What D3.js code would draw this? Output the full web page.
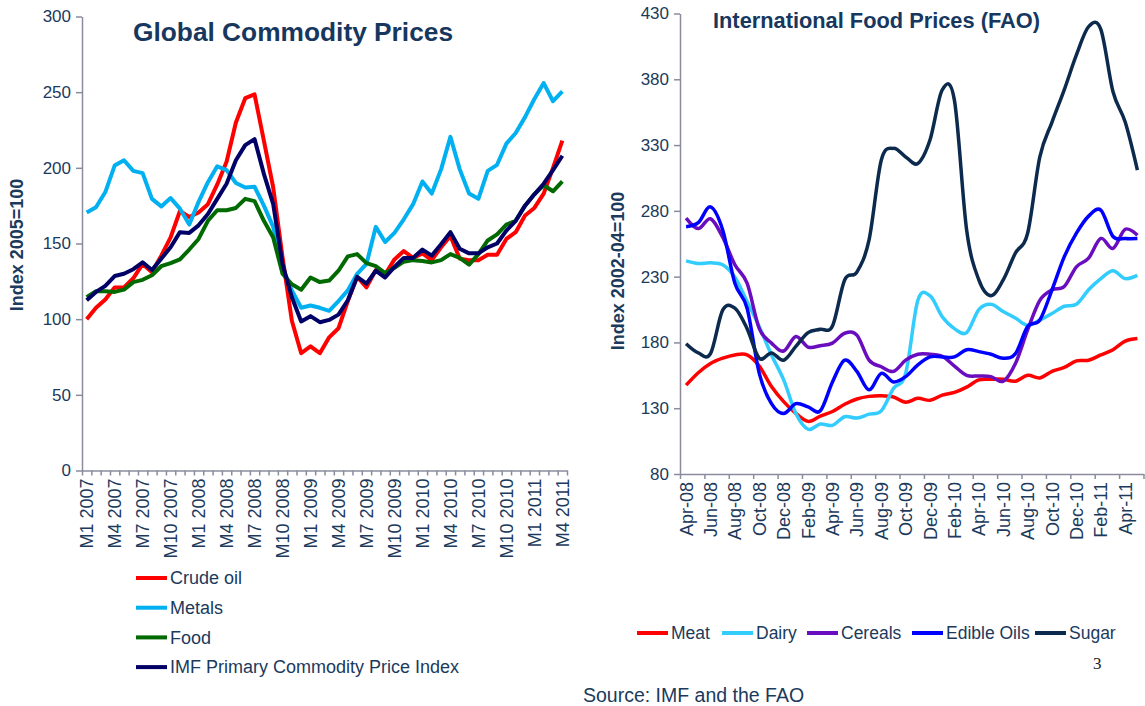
<!DOCTYPE html>
<html>
<head>
<meta charset="utf-8">
<script src="https://cdn.jsdelivr.net/npm/d3@7"></script>
<style>
  body { margin: 0; background: #fff; }
  svg { display: block; font-family: "Liberation Sans", Arial, sans-serif; }
</style>
</head>
<body>
<svg id="chart" width="1145" height="706"></svg>
<script>
// ---- Left panel: Global Commodity Prices (monthly, M1 2007 .. M4 2011)
const leftMonths = [];
for (const yr of [2007, 2008, 2009, 2010, 2011]) {
  for (let m = 1; m <= 12; m++) {
    if (yr === 2011 && m > 4) break;
    leftMonths.push(`M${m} ${yr}`);
  }
}
const leftTickLabels = ["M1 2007", "M4 2007", "M7 2007", "M10 2007", "M1 2008", "M4 2008",
  "M7 2008", "M10 2008", "M1 2009", "M4 2009", "M7 2009", "M10 2009", "M1 2010",
  "M4 2010", "M7 2010", "M10 2010", "M1 2011", "M4 2011"];
const leftYTicks = [0, 50, 100, 150, 200, 250, 300];

const crudeOil = [100, 107.5, 113, 121, 121, 127, 136.5, 131, 142, 154, 171.5, 167.5, 170.5, 176,
  189, 204, 230, 246, 248.5, 218, 187, 141, 99, 77.5, 82, 77.5, 88, 94, 112, 128, 121, 132.5,
  129.5, 139.5, 145, 140.5, 143.5, 139, 147.5, 155, 140, 139, 139, 142.5, 142.5, 153, 157.5,
  168.5, 173.5, 183, 200, 218];
const metals = [170.5, 174, 184, 201.5, 205, 198, 196.5, 179.5, 174.5, 180, 173, 162.5, 177.5,
  190.5, 201, 198.5, 190, 187, 187.5, 175, 161, 134, 119, 107.5, 109, 107.5, 105.5, 112, 119,
  130, 136.5, 161, 151, 157, 166, 176, 191, 183, 199, 220.5, 199, 183, 179.5, 198, 202, 216,
  223, 233.5, 245.5, 256, 244, 250.5];
const food = [114.5, 118.5, 118.5, 118, 119.5, 124.5, 126, 129, 135, 137, 139.5, 146, 153, 165,
  172, 172, 173.5, 179.5, 178, 165, 154, 130, 123, 119.5, 127.5, 124.5, 125.5, 132, 141.5, 143,
  137, 135, 130.5, 134, 138, 139, 138.5, 137.5, 139, 143, 140.5, 136, 143, 152, 156, 162.5, 165,
  175, 182.5, 188.5, 184.5, 191];
const imfIndex = [112.5, 118, 122, 128.5, 130, 133, 137.5, 132.5, 140, 147.5, 157.5, 157, 162,
  169.5, 179.5, 189.5, 205, 215, 219, 196, 176, 136.5, 114.5, 98.5, 102, 98, 99.5, 103, 112.5,
  128, 123.5, 132, 127.5, 134.5, 140.5, 140.5, 146, 142, 149.5, 157.5, 146.5, 143.5, 143.5,
  147.5, 150, 158.5, 165, 175, 182.5, 189.5, 198.5, 208];

// ---- Right panel: International Food Prices (FAO), Apr-08 .. May-11
const rightMonths = [];
const monNames = ["Jan", "Feb", "Mar", "Apr", "May", "Jun", "Jul", "Aug", "Sep", "Oct", "Nov", "Dec"];
for (let k = 3; k <= 12 * 3 + 4; k++) {
  rightMonths.push(`${monNames[k % 12]}-${String(8 + Math.floor(k / 12)).padStart(2, "0")}`);
}
const rightTickLabels = ["Apr-08", "Jun-08", "Aug-08", "Oct-08", "Dec-08", "Feb-09", "Apr-09",
  "Jun-09", "Aug-09", "Oct-09", "Dec-09", "Feb-10", "Apr-10", "Jun-10", "Aug-10", "Oct-10",
  "Dec-10", "Feb-11", "Apr-11"];
const rightYTicks = [80, 130, 180, 230, 280, 330, 380, 430];

const meat = [147.5, 157, 164, 168, 170.5, 170.5, 162, 146.5, 135, 126, 120, 124, 127.5, 133, 137,
  139, 139.5, 138.5, 134.5, 137.5, 136, 140, 142, 146, 151.5, 152, 152, 150.5, 155, 153, 158,
  161, 166, 166.5, 170.5, 174.5, 181, 183];
const dairy = [242, 240, 240.5, 239, 229.5, 211, 192, 170.5, 151.5, 126, 114, 118, 117, 123.5,
  122.5, 125.5, 128, 145, 156.5, 212, 215.5, 199.5, 190.5, 187.5, 205, 209, 203.5, 198.5, 193,
  197, 202, 207.5, 209, 220, 228.5, 234.5, 228.5, 231];
const cereals = [274.5, 266.5, 274, 260, 239, 225, 190.5, 179.5, 173.5, 184.5, 176.5, 177.5, 179.5,
  187, 185.5, 166.5, 161.5, 158, 166.5, 171, 171, 169.5, 162, 155, 154.5, 154, 150.5, 164, 189.5,
  212, 220, 222.5, 237.5, 244, 259, 251.5, 266, 261.5];
const edibleOils = [268, 271, 283, 265.5, 225, 206, 156.5, 133.5, 126, 133.5, 131, 128, 150, 166.5,
  158, 144, 156.5, 150, 154, 163, 169, 169, 169, 174.5, 173, 171, 168, 171.5, 192, 197, 220, 245,
  263, 276, 280.5, 260.5, 259, 259];
const sugar = [179, 172, 171.5, 204.5, 206, 190.5, 168, 172, 166.5, 177, 187.5, 190, 192.5, 227.5,
  233.5, 258, 318.5, 327.5, 321, 316, 334, 372, 364, 265.5, 227.5, 215.5, 227.5, 248, 263,
  321, 347.5, 372, 398.5, 420, 418, 370.5, 347.5, 311];

const textColor = "#1b3a5c";
const axisColor = "#8a8c9e";
const svg = d3.select("#chart");

function drawPanel(opt) {
  const x = d3.scaleBand().domain(opt.months).range([opt.x0, opt.x1]).padding(0);
  const y = d3.scaleLinear().domain(opt.yDomain).range([opt.y0, opt.y1]);
  const g = svg.append("g");

  // boundary tick marks on the category axis
  const edge = d3.scaleLinear().domain([0, opt.months.length]).range([opt.x0, opt.x1]);
  g.append("g")
    .attr("transform", `translate(0,${opt.y0})`)
    .call(d3.axisBottom(edge).tickValues(d3.range(0, opt.months.length + 1, opt.tickEvery))
      .tickSize(5).tickSizeOuter(0).tickFormat(""))
    .call(a => a.selectAll("line,path").attr("stroke", axisColor).attr("stroke-width", 1.5));

  // category labels
  g.append("g")
    .attr("transform", `translate(0,${opt.y0})`)
    .call(d3.axisBottom(x).tickValues(opt.tickLabels).tickSize(0))
    .call(a => a.select(".domain").remove())
    .call(a => a.selectAll("text")
      .attr("transform", "rotate(-90)")
      .attr("text-anchor", "end")
      .attr("x", -opt.labelGap).attr("y", 0).attr("dy", "0.36em")
      .attr("fill", textColor)
      .style("font-size", opt.xFont + "px")
      .style("font-family", "Liberation Sans, Arial, sans-serif"));

  // value axis
  g.append("g")
    .attr("transform", `translate(${opt.x0},0)`)
    .call(d3.axisLeft(y).tickValues(opt.yTicks).tickSize(6).tickSizeOuter(0).tickPadding(5))
    .call(a => a.selectAll("line,path").attr("stroke", axisColor).attr("stroke-width", 1.5))
    .call(a => a.selectAll("text").attr("fill", textColor)
      .style("font-size", "17px").style("font-family", "Liberation Sans, Arial, sans-serif"));

  // axis title
  g.append("text")
    .attr("transform", `translate(${opt.yTitleX},${opt.yTitleY}) rotate(-90)`)
    .attr("text-anchor", "middle")
    .attr("fill", textColor)
    .style("font-weight", "bold").style("font-size", "18px")
    .text(opt.yTitle);

  // chart title
  g.append("text")
    .attr("x", opt.titleX).attr("y", opt.titleY)
    .attr("fill", "#17375e")
    .style("font-weight", "bold").style("font-size", opt.titleSize + "px")
    .text(opt.title);

  const line = d3.line()
    .x((d, i) => x(opt.months[i]) + x.bandwidth() / 2)
    .y(d => y(d))
    .curve(opt.curve);

  opt.series.forEach(s => {
    g.append("path")
      .datum(s.values)
      .attr("fill", "none")
      .attr("stroke", s.color)
      .attr("stroke-width", opt.lineWidth)
      .attr("stroke-linejoin", "round")
      .attr("d", line);
  });
}

const leftSeries = [
  { name: "Crude oil", values: crudeOil, color: "#ff0000" },
  { name: "Metals", values: metals, color: "#00b0f0" },
  { name: "Food", values: food, color: "#006a00" },
  { name: "IMF Primary Commodity Price Index", values: imfIndex, color: "#000066" }
];
const rightSeries = [
  { name: "Meat", values: meat, color: "#ff0000" },
  { name: "Dairy", values: dairy, color: "#33ccff" },
  { name: "Cereals", values: cereals, color: "#6a0dbf" },
  { name: "Edible Oils", values: edibleOils, color: "#0000ff" },
  { name: "Sugar", values: sugar, color: "#0c2a4d" }
];

drawPanel({
  months: leftMonths, tickLabels: leftTickLabels, yTicks: leftYTicks,
  x0: 82, x1: 567, y0: 470.5, y1: 16.5, yDomain: [0, 300], tickEvery: 1,
  labelGap: 8, xFont: 18,
  yTitle: "Index 2005=100", yTitleX: 23, yTitleY: 245,
  title: "Global Commodity Prices", titleX: 133, titleY: 41, titleSize: 26.3,
  series: leftSeries, lineWidth: 4, curve: d3.curveLinear
});

drawPanel({
  months: rightMonths, tickLabels: rightTickLabels, yTicks: rightYTicks,
  x0: 680, x1: 1143.5, y0: 474, y1: 13.5, yDomain: [80, 430], tickEvery: 2,
  labelGap: 8, xFont: 18,
  yTitle: "Index 2002-04=100", yTitleX: 624, yTitleY: 271,
  title: "International Food Prices (FAO)", titleX: 713, titleY: 28, titleSize: 21.8,
  series: rightSeries, lineWidth: 3.5, curve: d3.curveCardinal.tension(0)
});

// ---- legends
const legL = svg.append("g");
leftSeries.forEach((s, i) => {
  const yy = 578 + i * 29.7;
  legL.append("line").attr("x1", 136).attr("x2", 167).attr("y1", yy).attr("y2", yy)
    .attr("stroke", s.color).attr("stroke-width", 4);
  legL.append("text").attr("x", 170).attr("y", yy).attr("dy", "0.35em")
    .attr("fill", textColor).style("font-size", "18px").text(s.name);
});

const legR = svg.append("g");
const legRX = [637, 722, 807, 912, 1035];
rightSeries.forEach((s, i) => {
  const xx = legRX[i];
  legR.append("line").attr("x1", xx).attr("x2", xx + 31).attr("y1", 633).attr("y2", 633)
    .attr("stroke", s.color).attr("stroke-width", 4);
  legR.append("text").attr("x", xx + 34).attr("y", 633).attr("dy", "0.35em")
    .attr("fill", textColor).style("font-size", "17.5px").text(s.name);
});

svg.append("text").attr("x", 583).attr("y", 702)
  .attr("fill", textColor).style("font-size", "19.5px").text("Source: IMF and the FAO");
svg.append("text").attr("x", 1093).attr("y", 669)
  .attr("fill", "#222").style("font-family", "Liberation Serif, serif").style("font-size", "17px")
  .text("3");
</script>
</body>
</html>
